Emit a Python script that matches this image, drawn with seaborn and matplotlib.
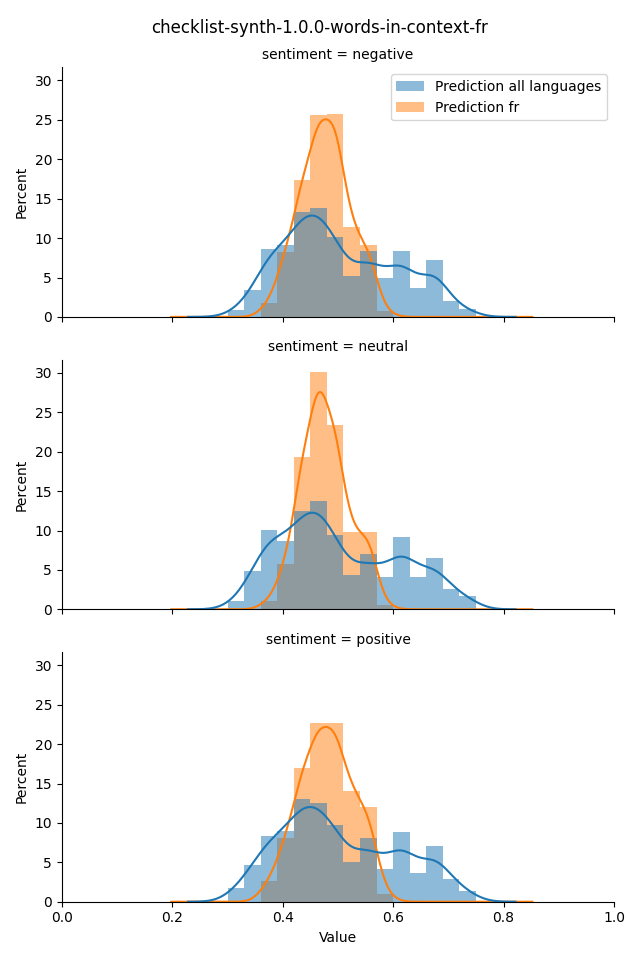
import numpy as np
import matplotlib
matplotlib.use('Agg')
import matplotlib.pyplot as plt
from matplotlib.patches import Patch
import seaborn as sns

# bins shared by both series (width 0.03)
bin_edges = [0.30, 0.33, 0.36, 0.39, 0.42, 0.45, 0.48, 0.51,
             0.54, 0.57, 0.60, 0.63, 0.66, 0.69, 0.72, 0.75]
sentiments = ['negative', 'neutral', 'positive']
series_names = ['Prediction all languages', 'Prediction fr']

# percent per bin
all_negative = [0.9, 3.5, 8.7, 9.2, 13.5, 14.0, 10.3, 5.3, 8.4, 5.0, 8.4, 3.7, 7.3, 2.0, 1.0]
fr_negative = [0, 0, 1.8, 8.3, 17.5, 25.8, 26.0, 11.5, 9.2, 0.7, 0, 0, 0, 0, 0]
all_neutral = [1.1, 4.8, 10.0, 8.6, 12.3, 13.6, 9.3, 4.3, 7.0, 4.1, 9.1, 4.1, 6.5, 2.5, 1.7]
fr_neutral = [0, 0, 1.1, 5.8, 19.3, 30.1, 23.3, 9.8, 9.8, 0.6, 0, 0, 0, 0, 0]
all_positive = [1.7, 4.7, 8.3, 9.0, 13.0, 12.5, 9.7, 5.0, 8.1, 4.2, 8.9, 3.7, 7.1, 2.9, 1.4]
fr_positive = [0, 0, 2.6, 8.0, 16.9, 22.6, 22.6, 14.0, 12.0, 1.0, 0, 0, 0, 0, 0]

all_values = [all_negative, all_neutral, all_positive]
fr_values = [fr_negative, fr_neutral, fr_positive]

edges = np.array(bin_edges)
centers = (edges[:-1] + edges[1:]) / 2

fig, axes = plt.subplots(3, 1, figsize=(6.4, 9.6), sharex=True, sharey=True)

for ax, sent, vals_all, vals_fr in zip(axes, sentiments, all_values, fr_values):
    # fr first so the all-languages bars sit on top (grey overlap)
    sns.histplot(x=centers, weights=vals_fr, bins=bin_edges, stat='percent',
                 kde=True, color='C1', alpha=0.5, linewidth=0, ax=ax,
                 kde_kws={'bw_adjust': 0.5, 'cut': 3},
                 line_kws={'linewidth': 1.5})
    sns.histplot(x=centers, weights=vals_all, bins=bin_edges, stat='percent',
                 kde=True, color='C0', alpha=0.5, linewidth=0, ax=ax,
                 kde_kws={'bw_adjust': 0.37, 'cut': 3},
                 line_kws={'linewidth': 1.5})
    ax.set_title(f'sentiment = {sent}', fontsize=10)
    ax.set_ylabel('Percent')
    ax.set_xlabel('')

axes[-1].set_xlabel('Value')
axes[0].set_xlim(0, 1)

handles = [Patch(facecolor='C0', alpha=0.5), Patch(facecolor='C1', alpha=0.5)]
axes[0].legend(handles, series_names, loc='upper right')

sns.despine(fig=fig)
fig.suptitle('checklist-synth-1.0.0-words-in-context-fr', fontsize=12)
fig.tight_layout()
fig.savefig('out.png', dpi=100)
